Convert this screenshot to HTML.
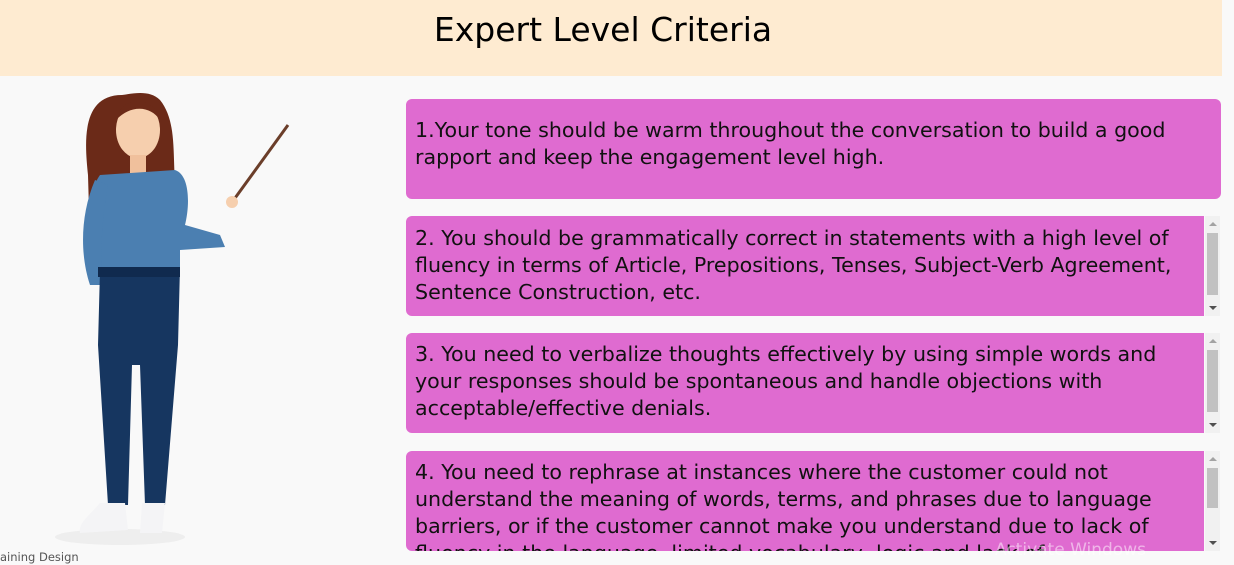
<!DOCTYPE html>
<html><head><meta charset="utf-8"><style>
body{margin:0;width:1234px;height:565px;overflow:hidden;background:#f9f9f9;font-family:"DejaVu Sans","Liberation Sans",sans-serif;position:relative}
.hdr{position:absolute;left:0;top:0;width:1222px;height:76px;background:#feebd1}
.hdr h1{margin:0;position:absolute;left:0;width:1206px;top:10px;text-align:center;font-weight:normal;font-size:33px;color:#000}
.box{position:absolute;left:406px;background:#df6bd0;border-radius:6px;overflow:hidden;font-size:20.6px;line-height:27px;color:#111;padding:18px 9px 0 9px;box-sizing:border-box;height:100px}
.sb{position:absolute;left:1205px;width:15px;height:100px;background:#f1f1f1}
.sb .th{position:absolute;left:2px;width:11px;top:17px;height:62px;background:#c1c1c1}
.sb .up,.sb .dn{position:absolute;left:4px;width:0;height:0;border-left:4px solid transparent;border-right:4px solid transparent}
.sb .up{top:6px;border-bottom:4px solid #a3a3a3}.sb .dn{bottom:6px;border-top:4px solid #505050}
.foot{position:absolute;left:0;top:550px;font-size:11.5px;color:#555}
.wm{position:absolute;left:995px;top:540px;font-size:17px;color:rgba(255,255,255,0.5)}
</style></head><body>
<div class="hdr"><h1>Expert Level Criteria</h1></div>
<svg style="position:absolute;left:40px;top:85px" width="260" height="465">
<ellipse cx="80" cy="452" rx="65" ry="8" fill="#eeeeee"/>
<path d="M82 10 C40 10 45 60 48 90 L50 160 C55 190 70 180 80 160 L120 160 C140 180 145 150 138 120 C130 80 140 40 120 15 C110 5 95 8 82 10Z" fill="#6b2a18"/>
<ellipse cx="98" cy="45" rx="22" ry="28" fill="#f6cfae"/>
<path d="M76 35 C80 10 115 10 120 35 C110 20 90 20 76 35Z" fill="#6b2a18"/>
<rect x="90" y="70" width="16" height="18" fill="#f0c09c"/>
<path d="M60 90 L135 85 C150 90 150 120 145 140 L180 150 L185 162 L140 165 L140 185 L55 190 C50 160 45 110 60 90Z" fill="#4b7fb1"/>
<path d="M55 95 C40 130 40 170 50 200 L62 200 C60 170 62 130 68 100Z" fill="#4b7fb1"/>
<path d="M60 185 L140 182 L138 260 L125 420 L105 420 L100 280 L92 280 L88 420 L68 420 L58 260Z" fill="#163660"/>
<rect x="58" y="182" width="82" height="10" fill="#102a4e"/>
<path d="M60 418 L85 418 L88 445 L40 448 C38 438 50 430 60 418Z" fill="#f4f4f6"/>
<path d="M102 418 L125 418 L122 448 L100 448Z" fill="#f4f4f6"/>
<line x1="190" y1="120" x2="248" y2="40" stroke="#6b3e2a" stroke-width="3"/>
<circle cx="192" cy="117" r="6" fill="#f6cfae"/>
</svg>
<div class="box" style="top:99px;width:815px">1.Your tone should be warm throughout the conversation to build a good rapport and keep the engagement level high.</div>
<div class="box" style="top:216px;width:798px;border-radius:6px 0 0 6px;padding-top:9px">2. You should be grammatically correct in statements with a high level of fluency in terms of Article, Prepositions, Tenses, Subject-Verb Agreement, Sentence Construction, etc.</div>
<div class="sb" style="top:216px"><div class="up"></div><div class="th"></div><div class="dn"></div></div>
<div class="box" style="top:333px;width:798px;border-radius:6px 0 0 6px;padding-top:8px">3. You need to verbalize thoughts effectively by using simple words and your responses should be spontaneous and handle objections with acceptable/effective denials.</div>
<div class="sb" style="top:333px"><div class="up"></div><div class="th"></div><div class="dn"></div></div>
<div class="box" style="top:451px;width:798px;border-radius:6px 0 0 6px;padding-top:8px">4. You need to rephrase at instances where the customer could not understand the meaning of words, terms, and phrases due to language barriers, or if the customer cannot make you understand due to lack of fluency in the language, limited vocabulary, logic and lack of</div>
<div class="sb" style="top:451px"><div class="up"></div><div class="th" style="height:40px"></div><div class="dn"></div></div>
<div class="foot">aining Design</div>
<div class="wm">Activate Windows</div>
</body></html>
